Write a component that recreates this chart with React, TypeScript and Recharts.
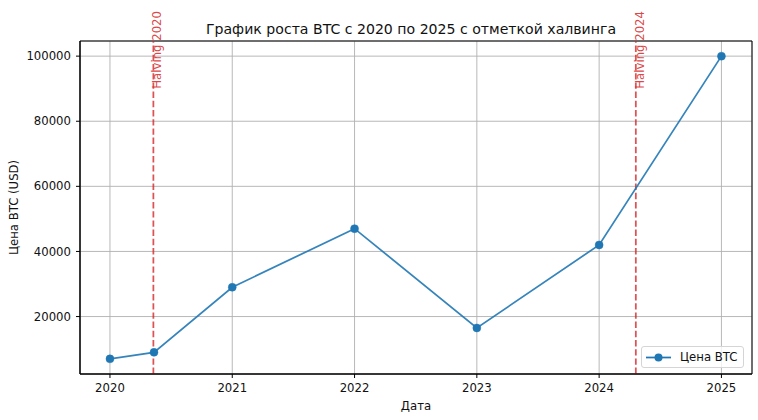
import {
  ComposedChart,
  Line,
  Scatter,
  XAxis,
  YAxis,
  CartesianGrid,
  ReferenceLine,
  ReferenceArea,
  Legend,
} from 'recharts'

// dates as fractional years
const dates = [2020.0, 2020.36, 2021.0, 2022.0, 2023.0, 2024.0, 2025.0]
const prices = [7000, 9000, 29000, 47000, 16500, 42000, 100000]

const halvingDates = [2020.355, 2024.3]
const halvingNames = ['Halving 2020', 'Halving 2024']
const halvingTextPrice = 90000

const xTicks = [2020, 2021, 2022, 2023, 2024, 2025]
const yTicks = [20000, 40000, 60000, 80000, 100000]
const xDomain = [2019.755, 2025.25]
const yDomain = [2350, 104650]

const seriesName = 'Цена BTC'
const title = 'График роста BTC с 2020 по 2025 с отметкой халвинга'

const FONT = '"DejaVu Sans", sans-serif'
const BLUE = '#1f77b4'
const RED = '#d62728'
const INK = '#111'

const lineData = dates.map((t, i) => ({ t, price: prices[i] }))
const halvingLabels = halvingDates.map((t, i) => ({ t, price: halvingTextPrice, name: halvingNames[i] }))

function HalvingText(props: any) {
  const { cx, cy, payload } = props
  const x = cx + 8
  return (
    <text
      x={x}
      y={cy}
      transform={`rotate(-90, ${x}, ${cy})`}
      fill={RED}
      fillOpacity={0.85}
      fontSize={11.7}
      fontFamily={FONT}
      textAnchor="start"
    >
      {payload.name}
    </text>
  )
}

function LegendBox() {
  return (
    <div
      style={{
        width: 101,
        height: 20,
        border: '1px solid #d5d5d5',
        borderRadius: 3,
        background: 'rgba(255,255,255,0.8)',
        position: 'relative',
        fontFamily: FONT,
      }}
    >
      <svg width={36} height={20} style={{ position: 'absolute', left: 0, top: 0 }}>
        <line x1={4} x2={29} y1={10.5} y2={10.5} stroke={BLUE} strokeWidth={1.75} />
        <circle cx={16.5} cy={10.5} r={4} fill={BLUE} />
      </svg>
      <span
        style={{
          position: 'absolute',
          left: 38,
          top: 2,
          fontSize: 11.7,
          lineHeight: '16px',
          color: INK,
          whiteSpace: 'nowrap',
        }}
      >
        {seriesName}
      </span>
    </div>
  )
}

export default function App() {
  return (
    <div style={{ position: 'relative', width: 758, height: 420, background: '#fff' }}>
      <style>{'body{margin:0}'}</style>
      <div
        style={{
          position: 'absolute',
          left: 75,
          width: 672,
          top: 21,
          textAlign: 'center',
          fontFamily: FONT,
          fontSize: 14.1,
          lineHeight: '16px',
          color: INK,
          whiteSpace: 'nowrap',
        }}
      >
        {title}
      </div>
      <ComposedChart
        width={758}
        height={420}
        margin={{ top: 41, right: 6, bottom: 0, left: 0 }}
        style={{ fontFamily: FONT }}
      >
        <CartesianGrid stroke="#b0b0b0" strokeWidth={0.9} />
        <XAxis
          dataKey="t"
          type="number"
          domain={xDomain}
          ticks={xTicks}
          height={46}
          tickSize={4}
          tickMargin={6}
          tick={{ fontSize: 11.7, fill: INK, fontFamily: FONT }}
          tickLine={{ stroke: '#000' }}
          axisLine={{ stroke: '#000' }}
          label={({ viewBox }: any) => (
            <text
              x={viewBox.x + viewBox.width / 2}
              y={viewBox.y + 36}
              textAnchor="middle"
              fontSize={11.7}
              fontFamily={FONT}
              fill={INK}
            >
              Дата
            </text>
          )}
        />
        <YAxis
          dataKey="price"
          type="number"
          domain={yDomain}
          ticks={yTicks}
          width={80}
          tickSize={4}
          tickMargin={5}
          tick={{ fontSize: 11.7, fill: INK, fontFamily: FONT }}
          tickLine={{ stroke: '#000' }}
          axisLine={{ stroke: '#000' }}
          label={({ viewBox }: any) => (
            <text
              transform={`translate(14, ${viewBox.y + viewBox.height / 2}) rotate(-90)`}
              textAnchor="middle"
              dominantBaseline="central"
              fontSize={11.7}
              fontFamily={FONT}
              fill={INK}
            >
              Цена BTC (USD)
            </text>
          )}
        />
        <ReferenceArea
          x1={xDomain[0]}
          x2={xDomain[1]}
          y1={yDomain[0]}
          y2={yDomain[1]}
          fill="none"
          fillOpacity={0}
          stroke="#000"
          strokeWidth={1}
        />
        {halvingDates.map((d) => (
          <ReferenceLine
            key={d}
            x={d}
            stroke={RED}
            strokeOpacity={0.8}
            strokeWidth={1.75}
            strokeDasharray="6.4 2.8"
          />
        ))}
        <Line
          data={lineData}
          dataKey="price"
          name={seriesName}
          stroke={BLUE}
          strokeOpacity={0.9}
          strokeWidth={1.75}
          dot={{ r: 4, fill: BLUE, stroke: BLUE, strokeWidth: 0.5, fillOpacity: 1 }}
          activeDot={false}
          isAnimationActive={false}
        />
        <Scatter
          data={halvingLabels}
          dataKey="price"
          shape={HalvingText}
          legendType="none"
          isAnimationActive={false}
        />
        <Legend
          layout="vertical"
          align="center"
          verticalAlign="middle"
          content={() => <LegendBox />}
          wrapperStyle={{ left: 641, top: 346, width: 103, height: 22 }}
        />
      </ComposedChart>
    </div>
  )
}
